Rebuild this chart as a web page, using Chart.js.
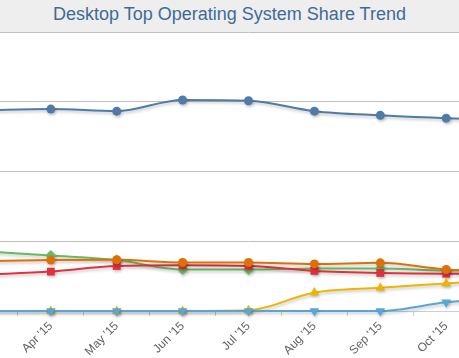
<!DOCTYPE html>
<html>
<head>
<meta charset="utf-8">
<script src="https://cdn.jsdelivr.net/npm/chart.js@4.4.0/dist/chart.umd.min.js"></script>
<style>
  html, body { margin: 0; padding: 0; background: #fff; }
  #wrap { position: relative; width: 459px; height: 358px; overflow: hidden; }
  #head {
    position: absolute; left: 0; top: 0; width: 459px; height: 32px;
    background: #eeeeee; z-index: 2;
    font-family: "Liberation Sans", Arial, sans-serif; font-size: 18px;
    line-height: 29px; text-align: center; color: #3e6b96;
  }
  #box { position: absolute; left: -48px; top: 0; width: 593px; height: 358px; }
</style>
</head>
<body>
<div id="wrap">
  <div id="head">Desktop Top Operating System Share Trend</div>
  <div id="box"><canvas id="myChart"></canvas></div>
</div>
<script>
// months shown on the axis (the first and last sit just outside the visible area)
const months = ["Mar '15", "Apr '15", "May '15", "Jun '15", "Jul '15", "Aug '15", "Sep '15", "Oct '15", "Nov '15"];

// share in percent
const win7 = [57.6, 57.9, 57.3, 60.5, 60.3, 57.3, 56.1, 55.3, 55.0];
const winXP = [17.1, 15.9, 14.6, 11.9, 11.9, 12.2, 12.2, 11.6, 11.6];
const win81 = [14.3, 14.6, 14.7, 13.9, 13.9, 13.5, 13.8, 11.9, 11.4];
const win8 = [10.4, 11.3, 12.9, 13.1, 12.9, 11.5, 10.9, 10.7, 10.7];
const win10 = [0, 0, 0, 0, 0.2, 5.3, 6.7, 7.9, 9.2];
const macOS = [0, 0, 0, 0, 0, 0, 0, 2.5, 4.0];

const yTicks = [0, 20, 40, 60, 80];

function series(label, data, color, style, rotation, order) {
  return {
    label: label,
    data: data,
    borderColor: color,
    backgroundColor: color,
    borderWidth: 2,
    pointStyle: style,
    pointRadius: style === "circle" ? 4.5 : 5.5,
    pointBorderWidth: 0,
    pointRotation: rotation,
    cubicInterpolationMode: "monotone",
    clip: false,
    order: order,
  };
}

const lineShadow = {
  id: "lineShadow",
  beforeDatasetDraw(chart) {
    const c = chart.ctx;
    c.save();
    c.shadowColor = "rgba(0,0,0,0.22)";
    c.shadowBlur = 3;
    c.shadowOffsetX = 1;
    c.shadowOffsetY = 2;
  },
  afterDatasetDraw(chart) {
    chart.ctx.restore();
  },
};

var ctx = document.getElementById("myChart").getContext("2d");

var myChart = new Chart(ctx, {
  type: "line",
  data: {
    labels: months,
    datasets: [
      series("Windows 7", win7, "#4f7ba6", "circle", 0, 6),
      series("Windows XP", winXP, "#66bb62", "rectRot", 0, 5),
      series("Windows 8.1", win8, "#e2303f", "rect", 0, 4),
      series("Windows 8", win81, "#de7008", "circle", 0, 3),
      series("Windows 10", win10, "#f0b400", "triangle", 0, 2),
      series("Mac OS X 10.11", macOS, "#58a6d6", "triangle", 180, 1),
    ],
  },
  options: {
    responsive: true,
    maintainAspectRatio: false,
    animation: false,
    layout: { padding: { top: 32, left: 0, right: 0, bottom: 0 }, autoPadding: false },
    plugins: {
      legend: { display: false },
      tooltip: { enabled: false },
    },
    scales: {
      x: {
        offset: true,
        grid: {
          offset: true,
          drawOnChartArea: false,
          drawTicks: true,
          tickLength: 5,
          color: "#c0d0e0",
        },
        border: { color: "#c0d0e0", width: 1 },
        ticks: {
          minRotation: 45,
          maxRotation: 45,
          autoSkip: false,
          color: "#606060",
          padding: 3,
          font: { family: "Liberation Sans", size: 12 },
        },
        afterFit: (scale) => { scale.height = 47; },
      },
      y: {
        min: yTicks[0],
        max: yTicks[yTicks.length - 1],
        afterBuildTicks: (scale) => { scale.ticks = yTicks.map((v) => ({ value: v })); },
        grid: { color: "#c0c0c0", drawTicks: false },
        border: { display: false },
        ticks: { display: false },
        afterFit: (scale) => { scale.width = 0; },
      },
    },
  },
  plugins: [lineShadow],
});
</script>
</body>
</html>
